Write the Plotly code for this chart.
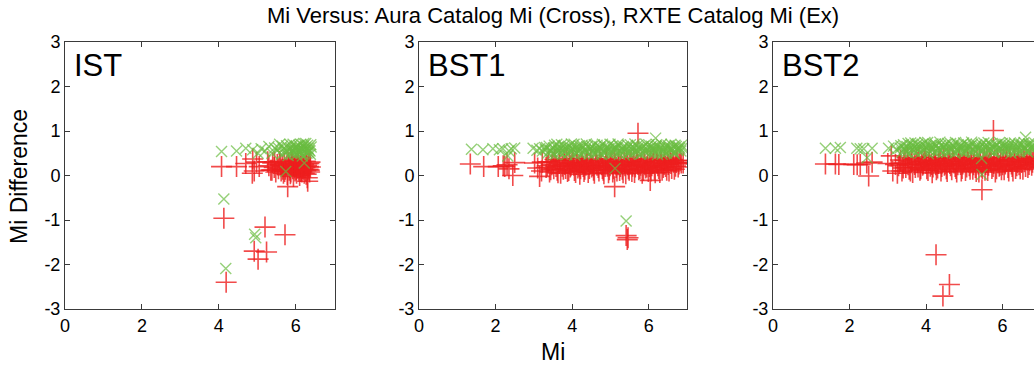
import plotly.graph_objects as go

# ---------------- data ----------------
panel_names = ["IST", "BST1", "BST2"]
x_ticks = [0, 2, 4, 6]
y_ticks = [-3, -2, -1, 0, 1, 2, 3]
y_tick_labels = ["-3", "-2", "-1", "0", "1", "2", "3"]

# IST panel: Aura (cross, red) and RXTE (ex, green)
ist_aura = [(4.07,0.20),(4.46,0.20),(4.70,0.27),(4.88,0.37),(4.92,0.10),(4.98,0.30),(5.05,0.20),(5.27,0.31),(4.87,0.05),
            (4.13,-0.96),(5.20,-1.16),(5.72,-1.33),(4.92,-1.70),(5.24,-1.72),(5.02,-1.88),(4.19,-2.40),(5.79,-0.25),(6.31,-0.13),
            (5.30,0.22),(5.35,0.12),(5.40,0.28),(5.44,0.18),(5.48,0.08),(5.52,0.25),(5.55,0.15),(5.58,0.32),(5.62,0.10),(5.65,0.20),
            (5.68,0.05),(5.70,0.27),(5.73,0.14),(5.76,0.22),(5.78,0.02),(5.80,0.30),(5.83,0.12),(5.85,0.18),(5.87,0.08),(5.90,0.25),
            (5.92,0.15),(5.94,-0.02),(5.96,0.20),(5.98,0.10),(6.00,0.28),(6.02,0.05),(6.04,0.17),(6.06,0.23),(6.08,0.12),(6.10,0.00),
            (6.12,0.20),(6.14,0.30),(6.16,0.08),(6.18,0.15),(6.20,0.25),(6.22,0.05),(6.24,0.18),(6.26,0.11),(6.28,0.22),(6.30,-0.05),
            (6.32,0.14),(6.34,0.27),(6.36,0.08),(6.38,0.19),(5.88,0.35),(6.05,0.33),(6.25,0.32),
            (5.95,0.22),(6.01,0.13),(6.07,0.27),(6.13,0.09),(6.19,0.21),(6.27,0.03),(6.33,0.20),(6.37,0.30),(5.82,0.24),(5.86,0.04),
            (5.91,0.31),(5.97,0.17),(6.03,0.26),(6.09,0.18),(6.15,0.11),(6.21,0.14),(6.29,0.26),(6.35,0.12),(5.60,0.24),(5.66,0.14),
            (5.71,0.09),(5.45,0.30),(5.38,0.12)]
ist_rxte = [(4.07,0.54),(4.46,0.55),(4.70,0.61),(4.88,0.58),(5.02,0.50),(4.13,-0.53),(4.93,-1.32),(4.96,-1.40),(4.18,-2.09),
            (5.10,0.60),(5.20,0.55),(5.30,0.65),(5.38,0.50),(5.45,0.62),(5.52,0.56),(5.58,0.70),(5.63,0.48),(5.68,0.60),(5.72,0.52),
            (5.76,0.67),(5.80,0.45),(5.84,0.58),(5.87,0.62),(5.90,0.50),(5.93,0.70),(5.96,0.55),(5.99,0.63),(6.02,0.47),(6.05,0.58),
            (6.08,0.68),(6.11,0.52),(6.14,0.60),(6.17,0.44),(6.20,0.66),(6.23,0.55),(6.26,0.72),(6.29,0.50),(6.32,0.61),(6.35,0.57),
            (6.38,0.48),(6.40,0.64),(5.74,0.09),(6.22,0.28),
            (5.95,0.60),(6.01,0.66),(6.07,0.53),(6.13,0.70),(6.19,0.58),(6.25,0.63),(6.31,0.68),(6.37,0.55),(5.85,0.70),(5.91,0.57),
            (5.97,0.50),(6.03,0.64),(6.09,0.60),(6.15,0.50),(6.21,0.72),(6.27,0.59),(6.33,0.52),(6.39,0.69),(5.78,0.55),(5.65,0.66),
            (5.55,0.62)]

bst1_aura = [(1.34,0.26),(1.69,0.20),(2.07,0.20),(2.20,0.22),(2.24,0.20),(2.30,0.24),(2.45,0.00),(2.50,0.29),(2.35,0.15),
             (3.02,0.28),(3.10,0.17),(3.15,-0.02),(3.20,0.10),(3.22,0.30),
             (5.72,0.95),(5.46,-1.40),(5.41,-1.35),(5.44,-1.44),(5.11,-0.25),(6.04,-0.11),(6.90,0.28),
             (3.32,0.18),(3.38,0.31),(3.41,0.08),(3.47,0.24),(3.52,0.15),(3.55,0.36),(3.61,0.12),(3.66,0.27),(3.70,0.05),(3.74,0.21),
             (3.79,0.33),(3.83,0.16),(3.88,0.09),(3.93,0.28),(3.97,0.22),(4.02,0.38),(4.06,0.11),(4.11,0.25),(4.15,0.17),(4.20,0.03),
             (4.24,0.30),(4.29,0.20),(4.33,0.14),(4.38,0.34),(4.42,0.07),(4.47,0.26),(4.51,0.19),(4.56,0.12),(4.61,0.37),(4.65,0.23),
             (4.70,0.10),(4.74,0.29),(4.79,0.16),(4.83,0.04),(4.88,0.32),(4.92,0.21),(4.97,0.13),(5.01,0.27),(5.06,0.08),(5.10,0.35),
             (5.15,0.18),(5.20,0.24),(5.24,0.11),(5.29,0.30),(5.33,0.06),(5.38,0.22),(5.42,0.33),(5.47,0.15),(5.51,0.26),(5.56,0.09),
             (5.61,0.38),(5.65,0.19),(5.70,0.28),(5.74,0.13),(5.79,0.23),(5.83,0.05),(5.88,0.31),(5.92,0.17),(5.97,0.36),(6.02,0.20),
             (6.06,0.10),(6.11,0.27),(6.15,0.14),(6.20,0.32),(6.24,0.22),(6.29,0.07),(6.33,0.29),(6.38,0.18),(6.42,0.35),(6.47,0.12),
             (6.51,0.25),(6.56,0.39),(6.60,0.16),(6.65,0.30),(6.70,0.21),(6.74,0.34),(6.79,0.26),(6.85,0.28),
             (3.35,0.22),(3.44,0.13),(3.50,0.30),(3.58,0.20),(3.63,0.06),(3.68,0.34),(3.77,0.14),(3.81,0.25),(3.86,0.37),(3.91,0.11),
             (3.95,0.19),(4.00,0.29),(4.04,0.23),(4.09,0.07),(4.13,0.33),(4.18,0.21),(4.22,0.15),(4.27,0.27),(4.31,0.09),(4.36,0.23),
             (4.40,0.31),(4.45,0.16),(4.49,0.36),(4.54,0.22),(4.58,0.05),(4.63,0.28),(4.68,0.18),(4.72,0.34),(4.77,0.24),(4.81,0.12),
             (4.86,0.20),(4.90,0.37),(4.95,0.06),(4.99,0.22),(5.04,0.31),(5.08,0.15),(5.13,0.26),(5.17,0.10),(5.22,0.36),(5.26,0.20),
             (5.31,0.14),(5.36,0.29),(5.40,0.04),(5.45,0.24),(5.49,0.12),(5.54,0.32),(5.58,0.21),(5.63,0.07),(5.68,0.35),(5.72,0.25),
             (5.77,0.16),(5.81,0.30),(5.86,0.11),(5.90,0.24),(5.95,0.19),(5.99,0.09),(6.04,0.33),(6.08,0.22),(6.13,0.37),(6.17,0.06),
             (6.22,0.28),(6.26,0.16),(6.31,0.34),(6.35,0.12),(6.40,0.25),(6.44,0.20),(6.49,0.32),(6.53,0.10),(6.58,0.27),(6.62,0.36),
             (6.67,0.14),(6.72,0.29),(6.77,0.19),(6.82,0.33)]
bst1_rxte = [(1.37,0.59),(1.67,0.58),(1.93,0.60),(2.10,0.58),(2.19,0.60),(2.41,0.60),(2.50,0.62),(2.32,0.44),(2.35,0.55),
             (2.98,0.61),(3.08,0.57),(3.15,0.60),(3.22,0.55),(3.28,0.63),(5.41,-1.02),(6.18,0.84),(5.12,0.16),
             (3.30,0.58),(3.36,0.50),(3.40,0.66),(3.46,0.54),(3.51,0.62),(3.56,0.47),(3.60,0.70),(3.65,0.56),(3.70,0.61),(3.75,0.49),
             (3.79,0.67),(3.84,0.55),(3.89,0.63),(3.93,0.52),(3.98,0.71),(4.03,0.58),(4.07,0.46),(4.12,0.64),(4.16,0.53),(4.21,0.60),
             (4.26,0.68),(4.30,0.50),(4.35,0.57),(4.39,0.65),(4.44,0.48),(4.49,0.61),(4.53,0.55),(4.58,0.69),(4.62,0.51),(4.67,0.59),
             (4.72,0.64),(4.76,0.47),(4.81,0.56),(4.85,0.66),(4.90,0.53),(4.95,0.60),(4.99,0.70),(5.04,0.49),(5.08,0.58),(5.13,0.63),
             (5.18,0.52),(5.22,0.67),(5.27,0.55),(5.31,0.61),(5.36,0.46),(5.41,0.59),(5.45,0.68),(5.50,0.54),(5.54,0.62),(5.59,0.50),
             (5.64,0.71),(5.68,0.57),(5.73,0.63),(5.77,0.48),(5.82,0.60),(5.87,0.66),(5.91,0.53),(5.96,0.59),(6.00,0.69),(6.05,0.51),
             (6.10,0.62),(6.14,0.56),(6.19,0.65),(6.23,0.47),(6.28,0.60),(6.33,0.70),(6.37,0.54),(6.42,0.63),(6.46,0.50),(6.51,0.67),
             (6.56,0.57),(6.60,0.61),(6.65,0.52),(6.69,0.68),(6.74,0.59),(6.79,0.64),(6.84,0.55),(6.88,0.62),
             (3.33,0.63),(3.43,0.57),(3.49,0.48),(3.54,0.68),(3.58,0.55),(3.63,0.64),(3.68,0.51),(3.72,0.69),(3.77,0.58),(3.82,0.62),
             (3.86,0.47),(3.91,0.66),(3.96,0.56),(4.00,0.61),(4.05,0.70),(4.10,0.52),(4.14,0.59),(4.19,0.67),(4.23,0.49),(4.28,0.63),
             (4.32,0.56),(4.37,0.71),(4.42,0.53),(4.46,0.60),(4.51,0.66),(4.56,0.48),(4.60,0.58),(4.65,0.68),(4.69,0.54),(4.74,0.62),
             (4.79,0.70),(4.83,0.51),(4.88,0.59),(4.92,0.64),(4.97,0.49),(5.01,0.57),(5.06,0.67),(5.11,0.53),(5.15,0.61),(5.20,0.71),
             (5.24,0.48),(5.29,0.58),(5.34,0.65),(5.38,0.55),(5.43,0.62),(5.48,0.50),(5.52,0.69),(5.57,0.57),(5.61,0.63),(5.66,0.52),
             (5.70,0.67),(5.75,0.59),(5.80,0.49),(5.84,0.64),(5.89,0.56),(5.93,0.70),(5.98,0.53),(6.03,0.61),(6.07,0.66),(6.12,0.50),
             (6.16,0.60),(6.21,0.69),(6.26,0.55),(6.30,0.63),(6.35,0.48),(6.39,0.58),(6.44,0.67),(6.48,0.54),(6.53,0.62),(6.58,0.70),
             (6.62,0.57),(6.67,0.49),(6.72,0.65),(6.76,0.56),(6.81,0.61),(6.86,0.68)]

bst2_aura = [(1.37,0.26),(1.63,0.26),(1.72,0.25),(2.11,0.25),(2.20,0.24),(2.28,0.25),(2.50,-0.01),(2.59,0.30),(2.45,0.28),
             (3.00,0.27),(3.09,0.44),(3.13,0.10),(3.20,0.25),(3.25,0.05),
             (5.76,1.01),(5.46,-0.32),(4.26,-1.78),(4.61,-2.45),(4.44,-2.71),
             (3.28,0.22),(3.33,0.35),(3.37,0.10),(3.42,0.28),(3.47,0.18),(3.51,0.40),(3.56,0.14),(3.61,0.31),(3.65,0.07),(3.70,0.25),
             (3.74,0.37),(3.79,0.19),(3.84,0.12),(3.88,0.32),(3.93,0.26),(3.98,0.41),(4.02,0.15),(4.07,0.29),(4.11,0.21),(4.16,0.06),
             (4.21,0.34),(4.25,0.24),(4.30,0.17),(4.34,0.38),(4.39,0.10),(4.44,0.30),(4.48,0.23),(4.53,0.15),(4.57,0.40),(4.62,0.27),
             (4.67,0.13),(4.71,0.33),(4.76,0.20),(4.80,0.08),(4.85,0.36),(4.90,0.25),(4.94,0.16),(4.99,0.31),(5.03,0.11),(5.08,0.39),
             (5.13,0.22),(5.17,0.28),(5.22,0.14),(5.26,0.34),(5.31,0.09),(5.36,0.26),(5.40,0.37),(5.45,0.19),(5.49,0.30),(5.54,0.12),
             (5.59,0.41),(5.63,0.23),(5.68,0.32),(5.72,0.16),(5.77,0.27),(5.81,0.08),(5.86,0.35),(5.91,0.21),(5.95,0.40),(6.00,0.24),
             (6.04,0.13),(6.09,0.31),(6.14,0.18),(6.18,0.36),(6.23,0.26),(6.27,0.10),(6.32,0.33),(6.37,0.22),(6.41,0.39),(6.46,0.15),
             (6.50,0.29),(6.55,0.42),(6.60,0.20),(6.64,0.34),(6.69,0.25),(6.74,0.38),(6.78,0.30),(6.84,0.27),
             (3.31,0.27),(3.40,0.17),(3.45,0.34),(3.53,0.24),(3.59,0.10),(3.63,0.38),(3.72,0.18),(3.77,0.29),(3.81,0.41),(3.86,0.15),
             (3.91,0.23),(3.95,0.33),(4.00,0.27),(4.05,0.11),(4.09,0.37),(4.14,0.25),(4.18,0.19),(4.23,0.31),(4.27,0.13),(4.32,0.27),
             (4.37,0.35),(4.41,0.20),(4.46,0.40),(4.50,0.26),(4.55,0.09),(4.60,0.32),(4.64,0.22),(4.69,0.38),(4.73,0.28),(4.78,0.16),
             (4.83,0.24),(4.87,0.41),(4.92,0.10),(4.96,0.26),(5.01,0.35),(5.06,0.19),(5.10,0.30),(5.15,0.14),(5.19,0.40),(5.24,0.24),
             (5.29,0.18),(5.33,0.33),(5.38,0.08),(5.42,0.28),(5.47,0.16),(5.52,0.36),(5.56,0.25),(5.61,0.11),(5.65,0.39),(5.70,0.29),
             (5.75,0.20),(5.79,0.34),(5.84,0.15),(5.88,0.28),(5.93,0.23),(5.97,0.13),(6.02,0.37),(6.07,0.26),(6.11,0.41),(6.16,0.10),
             (6.20,0.32),(6.25,0.20),(6.30,0.38),(6.34,0.16),(6.39,0.29),(6.43,0.24),(6.48,0.36),(6.53,0.14),(6.57,0.31),(6.62,0.40),
             (6.66,0.18),(6.71,0.33),(6.76,0.23),(6.81,0.37)]
bst2_rxte = [(1.37,0.61),(1.63,0.61),(1.76,0.63),(2.19,0.61),(2.28,0.60),(2.37,0.60),(2.59,0.61),(2.46,0.40),
             (3.02,0.61),(3.15,0.66),(3.22,0.58),(5.46,0.02),(6.60,0.86),(5.45,0.38),
             (3.32,0.62),(3.37,0.53),(3.41,0.69),(3.46,0.57),(3.50,0.65),(3.55,0.50),(3.60,0.73),(3.64,0.59),(3.69,0.64),(3.73,0.52),
             (3.78,0.70),(3.83,0.58),(3.87,0.66),(3.92,0.55),(3.97,0.74),(4.01,0.61),(4.06,0.49),(4.10,0.67),(4.15,0.56),(4.20,0.63),
             (4.24,0.71),(4.29,0.53),(4.33,0.60),(4.38,0.68),(4.43,0.51),(4.47,0.64),(4.52,0.58),(4.56,0.72),(4.61,0.54),(4.66,0.62),
             (4.70,0.67),(4.75,0.50),(4.79,0.59),(4.84,0.69),(4.89,0.56),(4.93,0.63),(4.98,0.73),(5.02,0.52),(5.07,0.61),(5.11,0.66),
             (5.16,0.55),(5.21,0.70),(5.25,0.58),(5.30,0.64),(5.34,0.49),(5.39,0.62),(5.44,0.71),(5.48,0.57),(5.53,0.65),(5.57,0.53),
             (5.62,0.74),(5.67,0.60),(5.71,0.66),(5.76,0.51),(5.80,0.63),(5.85,0.69),(5.90,0.56),(5.94,0.62),(5.99,0.72),(6.03,0.54),
             (6.08,0.65),(6.12,0.59),(6.17,0.68),(6.22,0.50),(6.26,0.63),(6.31,0.73),(6.35,0.57),(6.40,0.66),(6.45,0.53),(6.49,0.70),
             (6.54,0.60),(6.58,0.64),(6.63,0.55),(6.68,0.71),(6.72,0.62),(6.77,0.67),(6.82,0.58),(6.86,0.65),
             (3.34,0.67),(3.44,0.61),(3.48,0.52),(3.53,0.72),(3.57,0.59),(3.62,0.68),(3.67,0.55),(3.71,0.73),(3.76,0.62),(3.81,0.66),
             (3.85,0.51),(3.90,0.70),(3.95,0.60),(3.99,0.65),(4.04,0.74),(4.08,0.56),(4.13,0.63),(4.18,0.71),(4.22,0.53),(4.27,0.67),
             (4.31,0.60),(4.36,0.75),(4.41,0.57),(4.45,0.64),(4.50,0.70),(4.54,0.52),(4.59,0.62),(4.64,0.72),(4.68,0.58),(4.73,0.66),
             (4.77,0.74),(4.82,0.55),(4.87,0.63),(4.91,0.68),(4.96,0.53),(5.00,0.61),(5.05,0.71),(5.09,0.57),(5.14,0.65),(5.19,0.75),
             (5.23,0.52),(5.28,0.62),(5.32,0.69),(5.37,0.59),(5.42,0.66),(5.46,0.54),(5.51,0.73),(5.55,0.61),(5.60,0.67),(5.65,0.56),
             (5.69,0.71),(5.74,0.63),(5.78,0.53),(5.83,0.68),(5.88,0.60),(5.92,0.74),(5.97,0.57),(6.01,0.65),(6.06,0.70),(6.10,0.54),
             (6.15,0.64),(6.20,0.73),(6.24,0.59),(6.29,0.67),(6.33,0.52),(6.38,0.62),(6.43,0.71),(6.47,0.58),(6.52,0.66),(6.56,0.74),
             (6.61,0.61),(6.66,0.53),(6.70,0.69),(6.75,0.60),(6.80,0.65),(6.85,0.72)]

aura_sets = [ist_aura, bst1_aura, bst2_aura]
rxte_sets = [ist_rxte, bst1_rxte, bst2_rxte]

# ---------------- layout geometry ----------------
W, H = 1034, 369
x_domains = [(65 / W, 335 / W), (419 / W, 687 / W), (773 / W, 1.0)]
x_ranges = [[0, 7.02], [0, 7.0], [0, 6.82]]
y_domain = [(H - 309) / H, (H - 42) / H]

RED = "rgba(238,30,30,0.8)"
GREEN = "rgba(106,188,64,0.7)"
FONT = "Liberation Sans, Arial, sans-serif"
AXC = "#3a3a3a"

fig = go.Figure()
for i in range(3):
    xa = "x" if i == 0 else f"x{i+1}"
    ya = "y" if i == 0 else f"y{i+1}"
    ax, ay = zip(*aura_sets[i])
    rx, ry = zip(*rxte_sets[i])
    fig.add_trace(go.Scatter(x=list(ax), y=list(ay), mode="markers", xaxis=xa, yaxis=ya,
                             marker=dict(symbol="cross-thin", size=15, color=RED,
                                         line=dict(width=1.6, color=RED)),
                             showlegend=False, cliponaxis=True, hoverinfo="skip"))
    fig.add_trace(go.Scatter(x=list(rx), y=list(ry), mode="markers", xaxis=xa, yaxis=ya,
                             marker=dict(symbol="x-thin", size=11, color=GREEN,
                                         line=dict(width=1.4, color=GREEN)),
                             showlegend=False, cliponaxis=True, hoverinfo="skip"))

layout = dict(width=W, height=H, margin=dict(l=0, r=0, t=0, b=0, pad=0, autoexpand=False),
              paper_bgcolor="white", plot_bgcolor="white", showlegend=False,
              font=dict(family=FONT, color="black"))
for i in range(3):
    xk = "xaxis" if i == 0 else f"xaxis{i+1}"
    yk = "yaxis" if i == 0 else f"yaxis{i+1}"
    xa_anchor = "y" if i == 0 else f"y{i+1}"
    ya_anchor = "x" if i == 0 else f"x{i+1}"
    layout[xk] = dict(domain=list(x_domains[i]), range=x_ranges[i], anchor=xa_anchor,
                      showline=True, linecolor=AXC, linewidth=1, mirror="ticks",
                      ticks="inside", ticklen=5, tickcolor=AXC, tickvals=x_ticks,
                      showgrid=False, zeroline=False, fixedrange=True, automargin=False,
                      tickfont=dict(family=FONT, size=18, color="black"))
    layout[yk] = dict(domain=y_domain, range=[-3, 3], anchor=ya_anchor,
                      showline=True, linecolor=AXC, linewidth=1,
                      mirror=("ticks" if i < 2 else False),
                      ticks="inside", ticklen=5, tickcolor=AXC,
                      tickvals=y_ticks, ticktext=y_tick_labels,
                      showgrid=False, zeroline=False, fixedrange=True, automargin=False,
                      tickfont=dict(family=FONT, size=18, color="black"))
fig.update_layout(**layout)

annotations = [
    dict(text="Mi Versus: Aura Catalog Mi (Cross), RXTE Catalog Mi (Ex)", xref="paper", yref="paper",
         x=553 / W, y=1 - 15 / H, xanchor="center", yanchor="middle", showarrow=False,
         font=dict(family=FONT, size=22, color="black")),
    dict(text="Mi", xref="paper", yref="paper", x=553 / W, y=1 - 352 / H,
         xanchor="center", yanchor="middle", showarrow=False,
         font=dict(family=FONT, size=23, color="black")),
    dict(text="Mi Difference", xref="paper", yref="paper", x=19 / W, y=1 - 177 / H,
         xanchor="center", yanchor="middle", textangle=-90, showarrow=False,
         font=dict(family=FONT, size=23, color="black")),
]
for i, name in enumerate(panel_names):
    xr = "x domain" if i == 0 else f"x{i+1} domain"
    yr = "y domain" if i == 0 else f"y{i+1} domain"
    annotations.append(dict(text=name, xref=xr, yref=yr, x=0.025, y=0.985,
                            xanchor="left", yanchor="top", showarrow=False,
                            font=dict(family=FONT, size=31, color="black")))
fig.update_layout(annotations=annotations, hovermode=False)

fig.write_html("out.html",
               config={"displayModeBar": False, "staticPlot": True},
               post_script="document.body.style.margin='0';document.body.style.padding='0';"
                           "document.body.style.overflow='hidden';")
